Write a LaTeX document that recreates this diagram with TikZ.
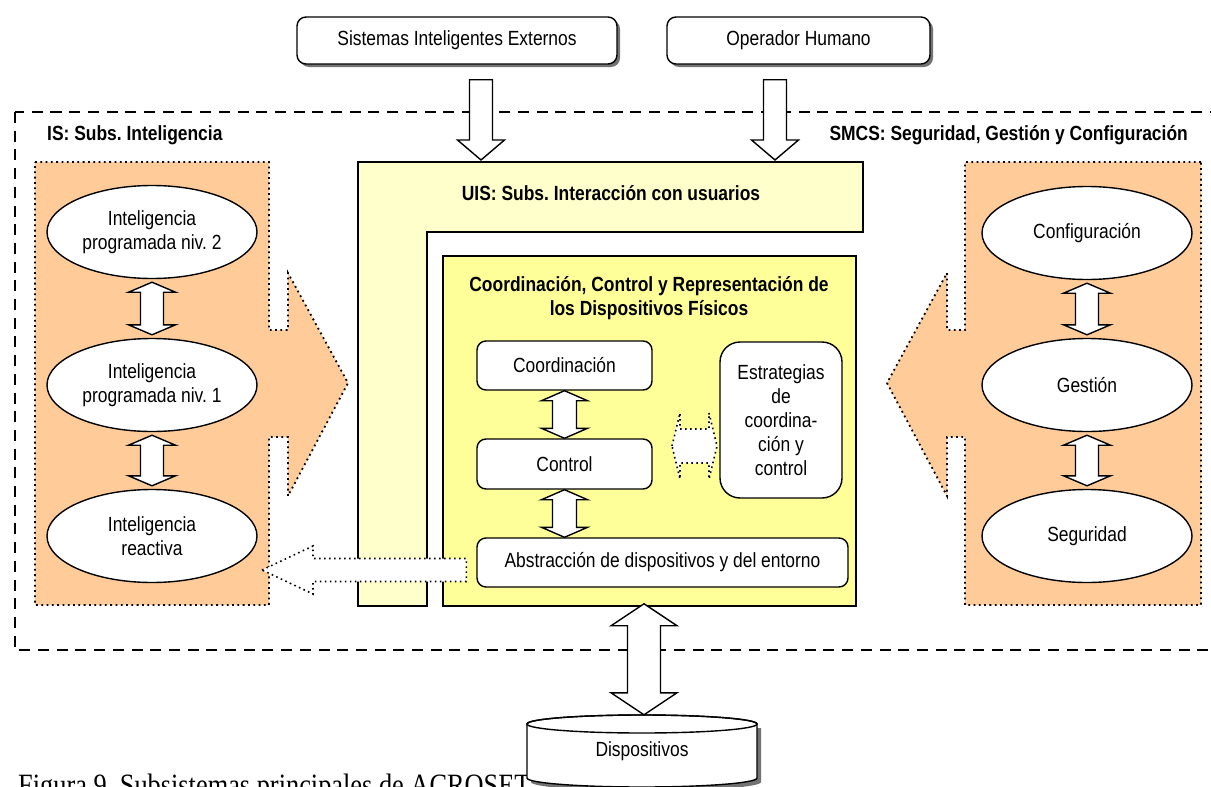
\documentclass[tikz,border=0pt]{standalone}
\usepackage{fontspec}
\setmainfont{Liberation Sans}[FakeStretch=0.85]
\newfontfamily\captionfont{Liberation Serif}[FakeStretch=0.85]
\usepackage{tikz}
\usetikzlibrary{shapes.geometric, shadows, calc}
\definecolor{Subsorange}{HTML}{FFCC99}
\definecolor{Uisyellow}{HTML}{FFFFCC}
\definecolor{Ccryellow}{HTML}{FFFF99}
\frenchspacing
\tikzstyle{blockarr} = [
    draw=black,
    line width=1.4pt,
    fill=white
]
\tikzstyle{dotarr} = [
    draw=black,
    line width=1.6pt,
    dash pattern=on 1.6pt off 3.4pt,
    fill=white
]
\tikzstyle{panel} = [fill=Subsorange, draw=black, line width=1.8pt, dash pattern=on 1.8pt off 3.5pt]
\tikzstyle{ovalbox} = [ellipse, draw, line width=1.4pt, fill=white, minimum width=210pt, minimum height=93pt, align=center, inner sep=0pt]
\tikzstyle{roundbox} = [rectangle, rounded corners=9pt, draw, line width=1.4pt, fill=white, align=center]
\tikzstyle{extbox} = [roundbox, minimum height=47pt, drop shadow={shadow xshift=3pt, shadow yshift=-3pt, fill=black!55, opacity=1}]
\tikzstyle{title} = [font=\fontsize{20.5}{24}\selectfont\bfseries, inner sep=0pt]
% vertical double block arrow: top, bottom, half head, half shaft, head length, gap
\newcommand{\dblv}[6]{%
    \path ($(#1)+(0,#6)$) coordinate (t) ($(#2)+(0,-#6)$) coordinate (b);
    \draw[blockarr] (t) -- ++(-#3,#5) -- ++(#3-#4,0) -- ($(t|-b)+(-#4,-#5)$) -- ++(#4-#3,0) -- (t|-b)
        -- ++(#3,-#5) -- ++(#4-#3,0) -- ($(t)+(#4,#5)$) -- ++(#3-#4,0) -- cycle;}
% down block arrow: tail, tip, half head, half shaft, head length
\newcommand{\sglv}[5]{%
    \draw[blockarr] (#2) -- ++(-#3,-#5) -- ++(#3-#4,0) -- ($(#2|-#1)+(-#4,0)$) -- ++(2*#4,0)
        -- ($(#2)+(#4,-#5)$) -- ++(#3-#4,0) -- cycle;}
% horizontal double block arrow, dotted: left tip, right tip, half head, half shaft, head length
\newcommand{\dblh}[5]{%
    \draw[dotarr] (#1) -- ++(#5,-#3) -- ++(0,#3-#4) -- ($(#1-|#2)+(-#5,-#4)$) -- ++(0,#4-#3) -- (#1-|#2)
        -- ++(-#5,#3) -- ++(0,#4-#3) -- ($(#1)+(#5,#4)$) -- ++(0,#3-#4) -- cycle;}
% left block arrow, dotted: tip, tail, half head, half shaft, head length
\newcommand{\sglh}[5]{%
    \draw[dotarr] (#1) -- ++(#5,-#3) -- ++(0,#3-#4) -- ($(#1-|#2)+(0,-#4)$) -- ++(0,2*#4)
        -- ($(#1)+(#5,#4)$) -- ++(0,#3-#4) -- cycle;}

\begin{document}
\begin{tikzpicture}[x=1pt, y=-1pt, every node/.style={font=\fontsize{20.5}{24}\selectfont, inner sep=2pt}]
    \useasboundingbox (0,0) rectangle (1211,787);
    \clip (0,0) rectangle (1211,787);
    % System frame
    \draw[line width=2pt, dash pattern=on 11pt off 7.7pt] (15,112) rectangle (1230,650);
    \node[title, anchor=west] (islbl) at (47,135) {IS: Subs. Inteligencia};
    \node[title, anchor=east] (smcslbl) at (1188,135) {SMCS: Seguridad, Gestión y Configuración};
    % IS panel
    \path[panel] (35,162) -- (269,162) -- (269,330) -- (288,330) -- (288,273) -- (348,383)
        -- (288,496) -- (288,437) -- (269,437) -- (269,605) -- (35,605) -- cycle;
    \node[ovalbox] (ip2) at (152,232) {Inteligencia\\programada niv. 2};
    \node[ovalbox] (ip1) at (152,385) {Inteligencia\\programada niv. 1};
    \node[ovalbox] (ir) at (152,536) {Inteligencia\\reactiva};
    \dblv{ip2.south}{ip1.north}{23.5}{11.5}{10}{3}
    \dblv{ip1.south}{ir.north}{23.5}{11.5}{10}{3}
    % SMCS panel
    \path[panel] (1201,162) -- (965,162) -- (965,330) -- (947,330) -- (947,273) -- (887,383)
        -- (947,496) -- (947,437) -- (965,437) -- (965,605) -- (1201,605) -- cycle;
    \node[ovalbox] (conf) at (1087,233) {Configuración};
    \node[ovalbox] (gest) at (1087,385) {Gestión};
    \node[ovalbox] (seg) at (1087,536) {Seguridad};
    \dblv{conf.south}{gest.north}{23.5}{11.5}{10}{3}
    \dblv{gest.south}{seg.north}{23.5}{11.5}{10}{3}
    % UIS
    \path[draw=black, line width=1.5pt, fill=Uisyellow] (358,162) -- (863,162) -- (863,232)
        -- (427,232) -- (427,606) -- (358,606) -- cycle;
    \node[title] (uis) at (611,193) {UIS: Subs. Interacción con usuarios};
    % Coordination and control
    \node[draw, line width=1.5pt, fill=Ccryellow, minimum width=413pt, minimum height=350pt, inner sep=0pt] (ccr) at (649.5,431) {};
    \node[title, align=center] (ccrlbl) at (649,298) {Coordinación, Control y Representación de\\los Dispositivos Físicos};
    \node[roundbox, minimum width=175pt, minimum height=49pt] (coord) at (564.5,365.5) {Coordinación};
    \node[roundbox, minimum width=175pt, minimum height=50pt] (ctrl) at (564.5,464) {Control};
    \node[roundbox, minimum width=371pt, minimum height=49pt] (abs) at (662.5,562.5) {Abstracción de dispositivos y del entorno};
    \node[roundbox, rounded corners=20pt, minimum width=122pt, minimum height=156pt] (estr) at (781,420) {Estrategias\\de\\coordina-\\ción y\\control};
    \dblv{coord.south}{ctrl.north}{23}{12}{10}{0}
    \dblv{ctrl.south}{ctrl.south|-abs.north}{23}{12}{10}{0}
    \coordinate (dl) at (672,446);
    \coordinate (dr) at (717,446);
    \dblh{dl}{dr}{33}{17}{8}
    % Feedback to reactive intelligence
    \coordinate (rtip) at (262,570);
    \coordinate (rtail) at ($(abs.west)+(-10,7.5)$);
    \sglh{rtip}{rtail}{24}{11.5}{51}
    % External actors
    \node[extbox, minimum width=320pt] (sie) at (457,40.5) {Sistemas Inteligentes Externos};
    \node[extbox, minimum width=263pt] (oper) at (798.5,40.5) {Operador Humano};
    \coordinate (sietail) at ($(sie.south)+(24,15)$);
    \coordinate (sietip) at (481,160);
    \coordinate (opertail) at ($(oper.south)+(-23.5,15)$);
    \coordinate (opertip) at (775,160);
    \sglv{sietail}{sietip}{23.5}{11.5}{20}
    \sglv{opertail}{opertip}{23.5}{11.5}{20}
    % Caption
    \node[anchor=base west, inner sep=0pt, font=\captionfont\fontsize{31}{36}\selectfont] (cap) at (18,795) {Figura 9. Subsistemas principales de ACROSET};
    % Devices
    \fill[black!55] (531,728) -- (531,782) arc[start angle=180, end angle=360, x radius=115pt, y radius=9pt] -- (761,728) -- cycle;
    \filldraw[fill=white, line width=1.4pt] (527,724) -- (527,778) arc[start angle=180, end angle=360, x radius=115pt, y radius=9pt]
        -- (757,724) arc[start angle=0, end angle=180, x radius=115pt, y radius=9pt] -- cycle;
    \draw[line width=1.4pt] (642,724) ellipse [x radius=115pt, y radius=9pt];
    \node[minimum width=230pt, minimum height=54pt] (dev) at (642,751) {Dispositivos};
    \coordinate (ccrbot) at ($(ccr.south)+(-5.5,-3)$);
    \coordinate (devtop) at ($(dev.north)+(2,-9)$);
    \dblv{ccrbot}{devtop}{33}{16.5}{22}{0}
\end{tikzpicture}
\end{document}
